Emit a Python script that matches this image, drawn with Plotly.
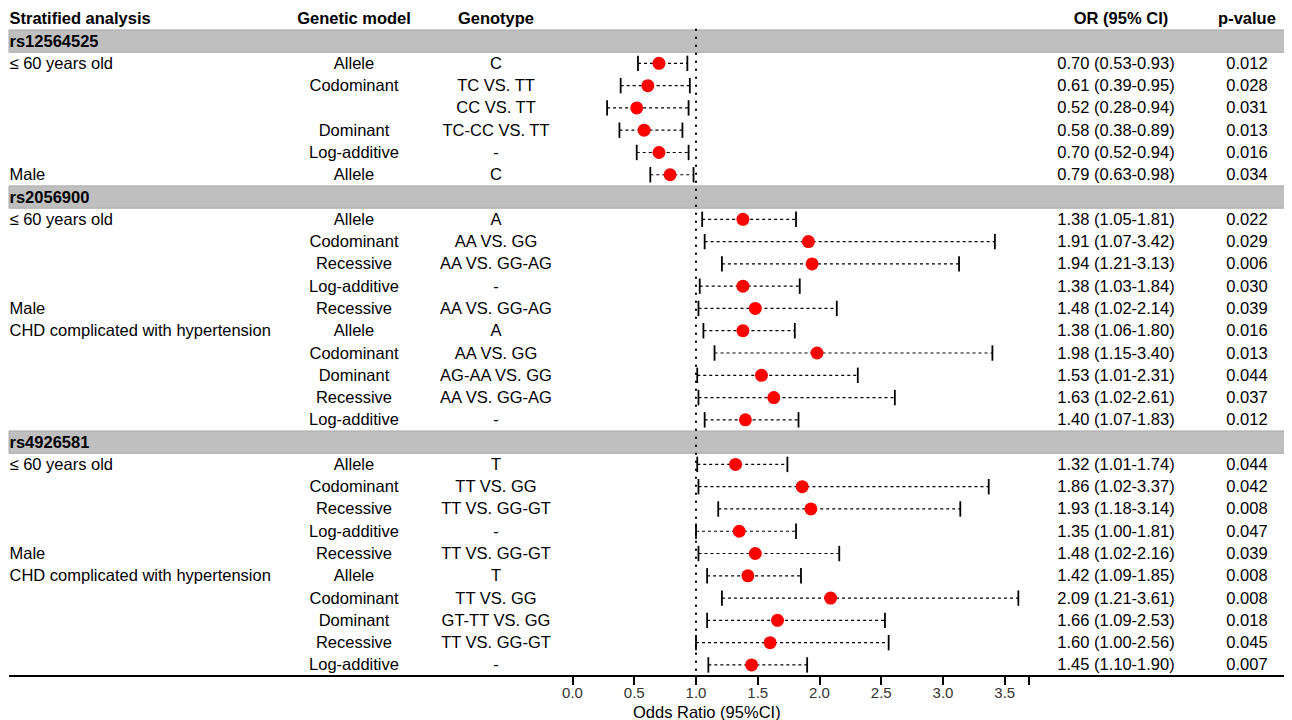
import plotly.graph_objects as go

# ---------------- data ----------------
snp_names = ["rs12564525", "rs2056900", "rs4926581"]
group_sizes = [6, 10, 10]

strata = [
    "≤ 60 years old", "", "", "", "", "Male",
    "≤ 60 years old", "", "", "", "Male", "CHD complicated with hypertension", "", "", "", "",
    "≤ 60 years old", "", "", "", "Male", "CHD complicated with hypertension", "", "", "", "",
]
models = [
    "Allele", "Codominant", "", "Dominant", "Log-additive", "Allele",
    "Allele", "Codominant", "Recessive", "Log-additive", "Recessive", "Allele", "Codominant", "Dominant", "Recessive", "Log-additive",
    "Allele", "Codominant", "Recessive", "Log-additive", "Recessive", "Allele", "Codominant", "Dominant", "Recessive", "Log-additive",
]
genotypes = [
    "C", "TC VS. TT", "CC VS. TT", "TC-CC VS. TT", "-", "C",
    "A", "AA VS. GG", "AA VS. GG-AG", "-", "AA VS. GG-AG", "A", "AA VS. GG", "AG-AA VS. GG", "AA VS. GG-AG", "-",
    "T", "TT VS. GG", "TT VS. GG-GT", "-", "TT VS. GG-GT", "T", "TT VS. GG", "GT-TT VS. GG", "TT VS. GG-GT", "-",
]
or_vals = [0.70, 0.61, 0.52, 0.58, 0.70, 0.79,
           1.38, 1.91, 1.94, 1.38, 1.48, 1.38, 1.98, 1.53, 1.63, 1.40,
           1.32, 1.86, 1.93, 1.35, 1.48, 1.42, 2.09, 1.66, 1.60, 1.45]
ci_low = [0.53, 0.39, 0.28, 0.38, 0.52, 0.63,
          1.05, 1.07, 1.21, 1.03, 1.02, 1.06, 1.15, 1.01, 1.02, 1.07,
          1.01, 1.02, 1.18, 1.00, 1.02, 1.09, 1.21, 1.09, 1.00, 1.10]
ci_high = [0.93, 0.95, 0.94, 0.89, 0.94, 0.98,
           1.81, 3.42, 3.13, 1.84, 2.14, 1.80, 3.40, 2.31, 2.61, 1.83,
           1.74, 3.37, 3.14, 1.81, 2.16, 1.85, 3.61, 2.53, 2.56, 1.90]
p_values = ["0.012", "0.028", "0.031", "0.013", "0.016", "0.034",
            "0.022", "0.029", "0.006", "0.030", "0.039", "0.016", "0.013", "0.044", "0.037", "0.012",
            "0.044", "0.042", "0.008", "0.047", "0.039", "0.008", "0.008", "0.018", "0.045", "0.007"]

headers = ["Stratified analysis", "Genetic model", "Genotype", "OR (95% CI)", "p-value"]
x_ticks = [0.0, 0.5, 1.0, 1.5, 2.0, 2.5, 3.0, 3.5, 3.7]
x_ticklabels = ["0.0", "0.5", "1.0", "1.5", "2.0", "2.5", "3.0", "3.5", ""]

# ---------------- layout helpers ----------------
OFF = 8  # browser body margin
W, H = 1292 - OFF, 720 - OFF
ML, MR, MT = 9 - OFF, 0, 0
PLOT_BOTTOM_PAGE = 675
MB = 720 - PLOT_BOTTOM_PAGE
PX_PER_UNIT = 123.5
X0_PAGE = 572.5
plot_left_page = OFF + ML
plot_right_page = OFF + W - MR
xmin = (plot_left_page - X0_PAGE) / PX_PER_UNIT
xmax = (plot_right_page - X0_PAGE) / PX_PER_UNIT


def px2x(px):
    return (px - X0_PAGE) / PX_PER_UNIT


ROW_PX = 22.28
ROW0_PAGE = 18.8
TEXT_DY = 1.4 / ROW_PX  # text sits slightly lower than marks
plot_top_page = OFF + MT
y_top = (plot_top_page - ROW0_PAGE) / ROW_PX
y_bot = (PLOT_BOTTOM_PAGE - ROW0_PAGE) / ROW_PX
plot_h = PLOT_BOTTOM_PAGE - plot_top_page

# assign row indices
band_rows = []
data_rows = []
cur = 1
for n in group_sizes:
    band_rows.append(cur)
    cur += 1
    for _ in range(n):
        data_rows.append(cur)
        cur += 1

FONT = "Liberation Sans, Arial, sans-serif"
FS = 16.5

fig = go.Figure()

shapes = []
for r in band_rows:
    shapes.append(dict(type="rect", xref="paper", yref="y", x0=0, x1=1, y0=r - 0.5, y1=r + 0.5,
                       fillcolor="#bfbfbf", line=dict(width=1, color="#a8a8a8"), layer="below"))
# reference line at OR = 1
shapes.append(dict(type="line", xref="x", yref="y", x0=1, x1=1, y0=band_rows[0] - 0.55, y1=y_bot,
                   line=dict(color="black", width=2, dash="2px,6px")))

# CI dashed lines
lx, ly = [], []
for lo, hi, r in zip(ci_low, ci_high, data_rows):
    lx += [lo, hi, None]
    ly += [r, r, None]
fig.add_trace(go.Scatter(x=lx, y=ly, mode="lines", line=dict(color="black", width=1.2, dash="3px,3px"),
                         hoverinfo="skip", showlegend=False))
# caps
fig.add_trace(go.Scatter(x=ci_low + ci_high, y=data_rows + data_rows, mode="markers",
                         marker=dict(symbol="line-ns-open", size=11, color="black",
                                     line=dict(color="black", width=1.8)),
                         hoverinfo="skip", showlegend=False))
# OR points
fig.add_trace(go.Scatter(x=or_vals, y=data_rows, mode="markers",
                         marker=dict(color="#ff0000", size=13, line=dict(width=0)),
                         showlegend=False))

left_x = px2x(plot_left_page + 0.5)
col_x = {"model": px2x(354), "geno": px2x(496), "or": px2x(1116), "p": px2x(1247)}


def add_text(xs, ys, texts, pos, bold=False):
    t = [f"<b>{s}</b>" if bold and s else s for s in texts]
    fig.add_trace(go.Scatter(x=xs, y=[y + TEXT_DY for y in ys], mode="text", text=t, textposition=pos,
                             textfont=dict(family=FONT, size=FS, color="black"),
                             hoverinfo="skip", showlegend=False, cliponaxis=False))


# headers
add_text([left_x], [0], [headers[0]], "middle right", bold=True)
add_text([col_x["model"]], [0], [headers[1]], "middle center", bold=True)
add_text([col_x["geno"]], [0], [headers[2]], "middle center", bold=True)
add_text([px2x(1121)], [0], [headers[3]], "middle center", bold=True)
add_text([col_x["p"]], [0], [headers[4]], "middle center", bold=True)
# band labels
add_text([left_x] * len(band_rows), band_rows, snp_names, "middle right", bold=True)
# rows
n = len(data_rows)
add_text([left_x] * n, data_rows, strata, "middle right")
add_text([col_x["model"]] * n, data_rows, models, "middle center")
add_text([col_x["geno"]] * n, data_rows, genotypes, "middle center")
or_text = [f"{o:.2f} ({lo:.2f}-{hi:.2f})" for o, lo, hi in zip(or_vals, ci_low, ci_high)]
add_text([col_x["or"]] * n, data_rows, or_text, "middle center")
add_text([col_x["p"]] * n, data_rows, p_values, "middle center")

fig.update_layout(
    width=W, height=H,
    margin=dict(l=ML, r=MR, t=MT, b=MB, autoexpand=False),
    plot_bgcolor="white", paper_bgcolor="white",
    shapes=shapes,
    font=dict(family=FONT, size=FS, color="black"),
    xaxis=dict(range=[xmin, xmax], tickvals=x_ticks, ticktext=x_ticklabels,
               ticks="outside", ticklen=8, tickwidth=1.5, tickcolor="black",
               ticklabelstandoff=-5,
               showline=True, linewidth=2, linecolor="black",
               showgrid=False, zeroline=False,
               tickfont=dict(family=FONT, size=15, color="#333333"), fixedrange=True),
    yaxis=dict(range=[y_bot, y_top], visible=False, showgrid=False, zeroline=False, fixedrange=True),
    annotations=[dict(text="Odds Ratio (95%CI)", xref="x", yref="paper", x=1.09,
                      y=(PLOT_BOTTOM_PAGE - 712) / plot_h, showarrow=False,
                      font=dict(family=FONT, size=16.5, color="black"), xanchor="center", yanchor="middle")],
)

fig.write_html("out.html")
